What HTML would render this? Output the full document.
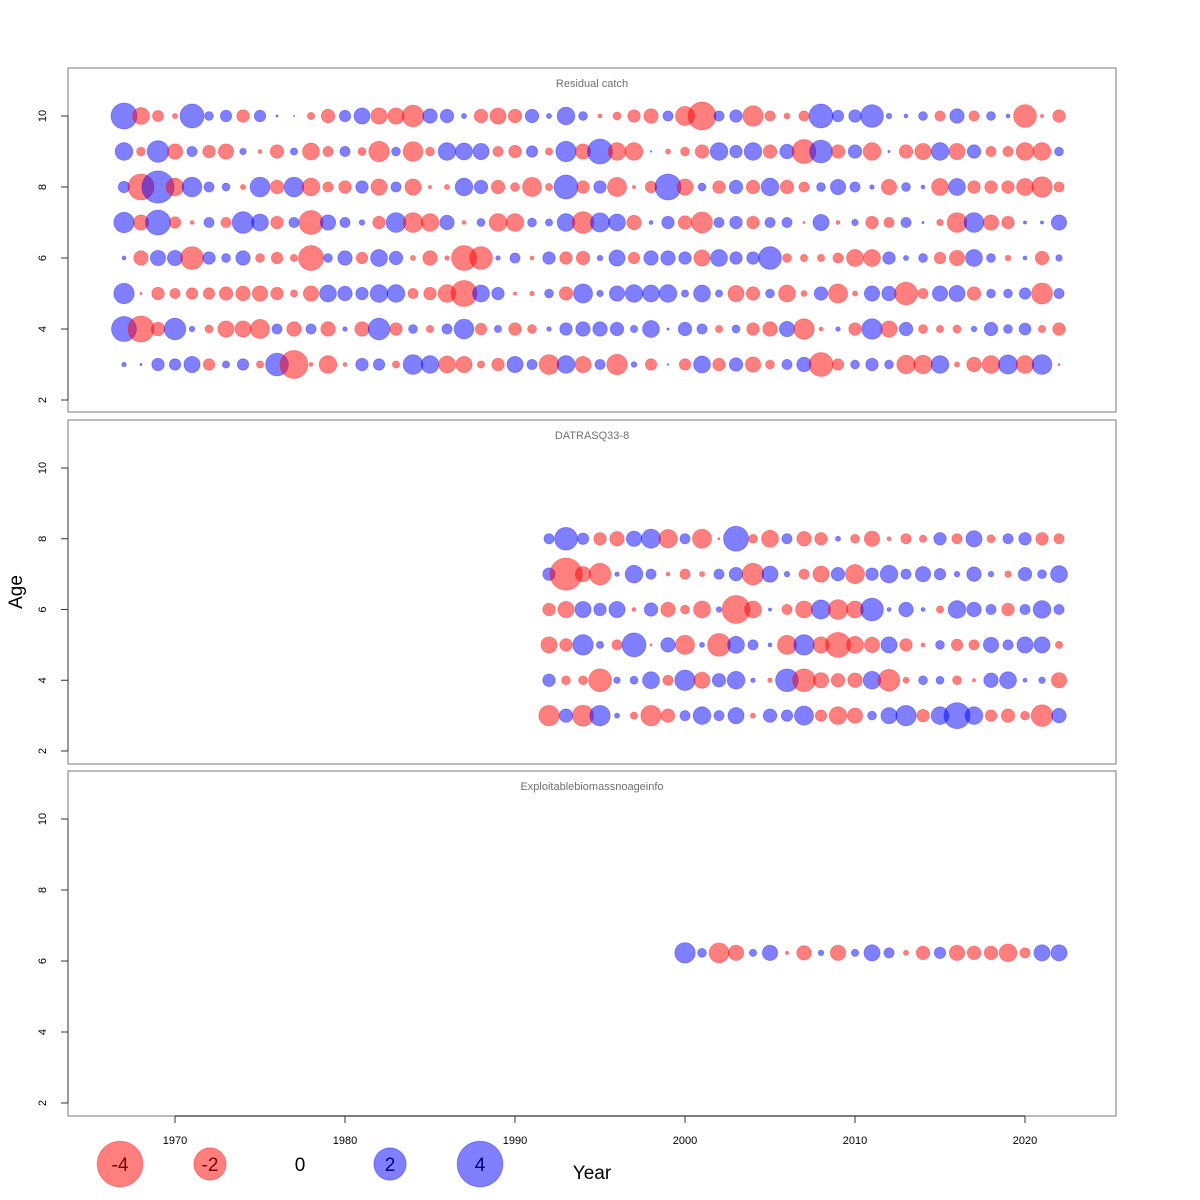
<!DOCTYPE html>
<html><head><meta charset="utf-8"><style>
html,body{margin:0;padding:0;background:#fff;}
svg{display:block;font-family:"Liberation Sans",sans-serif;}
</style></head><body>
<svg id="chart" width="1200" height="1200" viewBox="0 0 1200 1200" xmlns="http://www.w3.org/2000/svg">
<rect x="0" y="0" width="1200" height="1200" fill="#fff"/>
<g id="frames"></g>
<g id="marks"></g>
<text x="592" y="1179" font-size="19" text-anchor="middle" fill="#000">Year</text>
<text x="0" y="0" font-size="19" text-anchor="middle" fill="#000" transform="translate(22,592) rotate(-90)">Age</text>
</svg>
<script>
const years1 = [];
for (let y = 1967; y <= 2022; y++) years1.push(y);
const years2 = [];
for (let y = 1992; y <= 2022; y++) years2.push(y);
const years3 = [];
for (let y = 2000; y <= 2022; y++) years3.push(y);
const ages1 = [3,4,5,6,7,8,9,10];
const ages2 = [3,4,5,6,7,8];
const age3 = 6.23;

const catch10 = [1.3,-.55,-.23,-.05,1.1,.15,.25,-.3,.25,.01,-.005,-.1,-.35,.25,.5,-.5,-.5,-.9,.4,.35,.05,-.35,-.5,-.35,.35,.05,.6,.15,-.03,-.12,-.3,-.4,.2,-.7,-1.5,.2,.3,-.8,-.2,-.07,-.2,1.1,.25,.3,1.0,.06,.03,.15,-.2,.4,-.2,.15,.03,-1.0,-.02,-.3];
const catch9 = [.6,-.15,.9,-.45,.2,-.3,-.45,.08,-.03,-.35,.1,-.55,-.2,.2,-.12,-.8,.15,-.75,-.15,.6,.55,.5,-.2,-.3,.25,-.1,.8,-.45,1.2,-.6,-.6,.005,-.05,-.15,-.35,.6,.3,.6,-.35,.4,-1.1,1.0,-.35,.35,-.6,.01,-.35,-.5,.6,-.5,.35,-.2,-.2,-.6,-.6,.15];
const catch8 = [.25,-1.3,2.0,-.6,.75,.2,.12,-.05,.75,-.35,.75,-.6,-.2,-.3,.3,-.5,.2,-.5,-.02,-.05,.6,.35,-.35,-.15,-.7,-.1,1.1,-.3,.3,-.7,-.02,-.25,1.3,-.5,.12,-.3,.35,-.35,.6,-.35,-.2,.15,.45,.2,.04,-.45,.15,.03,-.55,.55,-.3,-.3,-.3,-.55,-.8,-.2];
const catch7 = [.8,-.45,1.2,-.25,-.03,.2,-.2,.9,.55,-.3,.2,-1.1,.45,.2,.06,-.3,.75,-.75,-.6,.4,-.03,.12,-.6,-.6,.15,.1,.6,-.9,.7,.55,-.4,.03,.3,-.35,-.85,.2,.3,-.3,.2,.2,-.01,.5,-.03,.08,-.3,-.2,.2,.01,-.08,-.75,.75,-.45,-.3,.02,.02,.45];
const catch6 = [.03,-.4,.45,.45,-1.0,.3,.15,.4,-.15,-.25,-.1,-1.2,.15,.4,-.25,.55,.35,-.05,-.4,-.04,-1.2,-1.0,.04,.2,-.03,.3,-.3,-.35,.06,.5,-.25,.4,.4,.3,-.5,.55,.3,.3,1.0,-.15,-.1,-.1,-.2,-.55,-.55,.3,.05,.15,-.25,-.45,.55,.15,-.06,.03,-.35,.08];
const catch5 = [.8,-.01,-.3,-.2,-.25,-.25,-.35,-.4,-.45,-.3,-.1,-.45,.55,.4,.3,.6,.6,-.2,-.3,-.6,-1.3,.55,.3,-.02,-.04,.15,-.35,.7,.08,.45,.6,.55,.6,.1,.55,.1,-.5,-.35,.15,-.55,-.07,.35,-.7,-.05,.45,.4,-1.0,-.2,.45,.5,-.35,.15,.15,.25,-.85,.2];
const catch4 = [1.2,-1.3,-.35,.9,.06,-.12,-.5,-.5,-.7,.2,-.4,.2,-.4,.04,-.4,.9,-.3,.15,-.1,.2,.75,-.25,.1,-.3,-.15,.04,.3,.4,.4,.35,.1,.55,.01,.35,.2,-.1,.12,-.3,-.4,.45,-.8,-.03,.04,-.3,.8,-.5,.35,-.15,-.1,-.12,.06,.35,.15,.27,-.1,-.3];
const catch3 = [.04,.01,.3,.25,.5,-.25,.1,.25,-.1,1.0,-1.5,-.03,-.6,-.03,.3,.25,-.1,.75,.6,-.55,-.5,-.1,-.3,.5,.2,-.75,.6,-.5,.2,-.8,.06,-.25,.005,-.25,.55,-.3,.35,-.45,-.15,.2,.4,-1.1,-.25,.15,.3,.15,-.65,-.65,.6,-.05,-.4,-.6,.7,-.6,.75,-.01];

const datras8 = [.2,1.0,.25,-.3,-.4,.45,.7,-.65,.2,-.7,-.01,1.2,-.15,-.55,.2,-.4,-.3,.05,-.15,-.45,-.03,-.2,-.1,.3,-.2,.5,-.12,.2,.3,-.3,-.2];
const datras7 = [.3,-2.0,-.45,-.9,.04,.6,.2,-.03,-.2,-.05,.2,.35,-.9,.5,.06,-.2,-.5,.35,-.7,.3,.6,.2,.45,.25,.06,.4,.06,-.08,.35,.15,.55];
const datras6 = [-.3,-.5,.5,.3,.5,-.03,.35,-.4,-.15,-.55,.06,-1.5,-.55,.02,-.2,-.55,.7,-.75,-.55,1.0,.03,.4,.03,-.1,.6,.4,.2,-.3,.2,.6,.2];
const datras5 = [-.5,-.3,.8,.1,-.2,1.1,-.01,.4,-.7,.05,-1.0,.55,.2,.03,-.7,.8,-.5,-1.2,-.55,-.45,.5,-.3,-.03,.15,-.25,-.2,.45,.2,.5,.5,-.1];
const datras4 = [.3,-.15,-.15,-1.0,.08,.12,.55,-.2,.8,-.5,.35,.6,.04,-.04,1.0,-1.0,-.45,-.35,-.4,.6,-.9,-.07,.15,.12,-.15,-.02,.4,.55,.03,.08,-.45];
const datras3 = [-.8,.35,-.85,.8,.05,-.1,-.8,-.35,.2,.6,.2,.5,-.05,.35,.25,.7,-.25,-.6,-.45,.15,.5,.8,-.3,.6,1.3,.6,-.25,-.35,-.15,-.9,.4];

const expl = [.8,.15,-.75,-.45,.1,.45,-.02,-.4,.06,-.45,.1,.5,.2,-.05,-.35,.25,-.45,-.35,-.35,-.6,-.2,.5,.5];

const xTicks = [1970,1980,1990,2000,2010,2020];
const yTicks = [2,4,6,8,10];
const legendValues = [-4,-2,0,2,4];
const panelTitles = ["Residual catch","DATRASQ33-8","Exploitablebiomassnoageinfo"];

const NS = "http://www.w3.org/2000/svg";
function xs(yr){ return 175 + (yr - 1970) * 17; }
function rs(v){ return 11.4 * Math.sqrt(Math.abs(v)); }
const panels = [
  {top:68,bottom:412,y2:400,y10:116},
  {top:420,bottom:764,y2:751,y10:468},
  {top:771,bottom:1116,y2:1103,y10:819}
];
function ys(p, a){ return p.y2 - (a - 2) * (p.y2 - p.y10) / 8; }
function mk(tag, attrs, parent){
  const e = document.createElementNS(NS, tag);
  for (const k in attrs) e.setAttribute(k, attrs[k]);
  parent.appendChild(e);
  return e;
}
const frames = document.getElementById('frames');
const marks = document.getElementById('marks');

panels.forEach((p, i) => {
  const box = mk('rect', {x:68, y:p.top, width:1048, height:p.bottom-p.top, fill:'none', stroke:'#7a7a7a', 'stroke-width':1}, frames);
  
  
  const t = mk('text', {x:592, y:p.top+19, 'font-size':11, 'text-anchor':'middle', fill:'#707070'}, frames);
  t.textContent = panelTitles[i];
  
  
  const ax = mk('line', {x1:68, x2:68, y1:ys(p,2), y2:ys(p,10), stroke:'#333', 'stroke-width':1}, frames);
  
  
  yTicks.forEach(v => {
    const yy = ys(p, v);
    const tk = mk('line', {x1:61, x2:68, y1:yy, y2:yy, stroke:'#333', 'stroke-width':1}, frames);
    
    
    const lb = mk('text', {x:0, y:0, 'font-size':11, 'text-anchor':'middle', fill:'#000', transform:'translate(46,'+yy+') rotate(-90)'}, frames);
    lb.textContent = v;
    
    
  });
});

const xl = mk('line', {x1:xs(1970), x2:xs(2020), y1:1116, y2:1116, stroke:'#333', 'stroke-width':1.2}, frames);


xTicks.forEach(v => {
  const tk = mk('line', {x1:xs(v), x2:xs(v), y1:1116, y2:1123, stroke:'#333', 'stroke-width':1}, frames);
  
  
  const lb = mk('text', {x:xs(v), y:1144, 'font-size':11, 'text-anchor':'middle', fill:'#000'}, frames);
  lb.textContent = v;
  
  
});

function bubble(cx, cy, v){
  if (v === 0) return;
  const c = mk('circle', {cx:cx, cy:cy, r:rs(v),
    fill: v < 0 ? 'rgba(255,0,0,0.5)' : 'rgba(0,0,255,0.5)',
    stroke: v < 0 ? 'rgba(255,0,0,0.35)' : 'rgba(0,0,255,0.35)', 'stroke-width':0.8}, marks);
  
  
}
const catchRows = [catch3,catch4,catch5,catch6,catch7,catch8,catch9,catch10];
catchRows.forEach((row, ai) => row.forEach((v, yi) => bubble(xs(years1[yi]), ys(panels[0], ages1[ai]), v)));
const datrasRows = [datras3,datras4,datras5,datras6,datras7,datras8];
datrasRows.forEach((row, ai) => row.forEach((v, yi) => bubble(xs(years2[yi]), ys(panels[1], ages2[ai]), v)));
expl.forEach((v, yi) => bubble(xs(years3[yi]), ys(panels[2], age3), v));

legendValues.forEach((v, i) => {
  const cx = 120 + i * 90, cy = 1164;
  if (v !== 0) {
    const c = mk('circle', {cx:cx, cy:cy, r:rs(v), fill: v < 0 ? 'rgba(255,0,0,0.5)' : 'rgba(0,0,255,0.5)', stroke: v < 0 ? 'rgba(255,0,0,0.35)' : 'rgba(0,0,255,0.35)'}, marks);
    
    
  }
  const t = mk('text', {x:cx, y:cy+7, 'font-size':19, 'text-anchor':'middle', fill: v < 0 ? '#7a0000' : (v > 0 ? '#00007a' : '#000')}, marks);
  t.textContent = v;
  
  
});
</script>
</body></html>
